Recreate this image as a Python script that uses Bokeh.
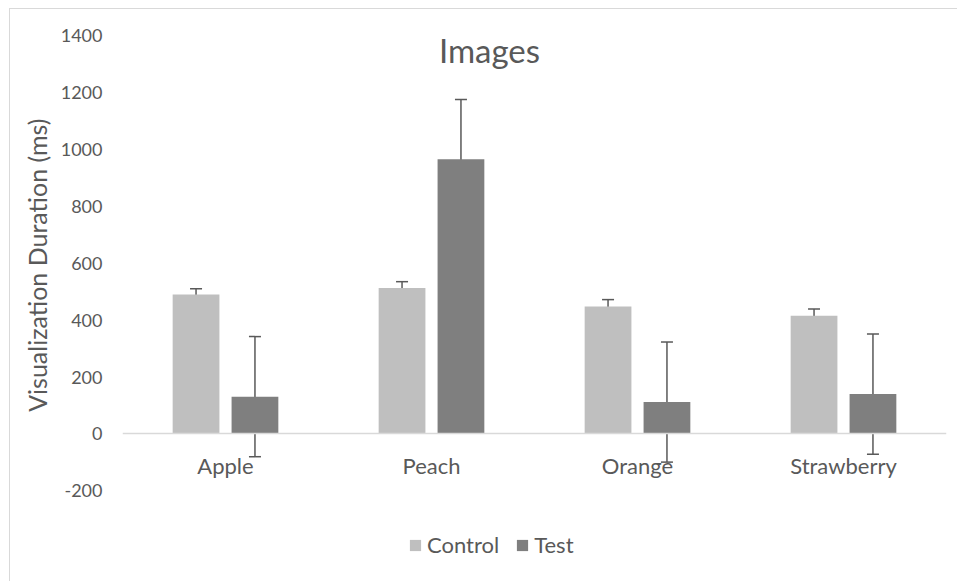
from bokeh.plotting import figure
from bokeh.models import (ColumnDataSource, FactorRange, Range1d, FixedTicker, Whisker,
                          TeeHead, Legend, LegendItem, Label, Title)
from bokeh.transform import dodge
from bokeh.embed import file_html
from bokeh.resources import INLINE

categories = ["Apple", "Peach", "Orange", "Strawberry"]
control = [490, 513, 448, 415]
control_err = [20, 22, 24, 24]
test = [131, 965, 112, 140]
test_err = [211, 210, 211, 211]
y_ticks = [-200, 0, 200, 400, 600, 800, 1000, 1200, 1400]

FONT = "Lato"
TXT = "#595959"
C_CONTROL = "#bfbfbf"
C_TEST = "#7f7f7f"
ERR = "#595959"

src = ColumnDataSource(dict(
    cat=categories,
    control=control,
    c_up=[v + e for v, e in zip(control, control_err)],
    c_lo=[v - e for v, e in zip(control, control_err)],
    test=test,
    t_up=[v + e for v, e in zip(test, test_err)],
    t_lo=[v - e for v, e in zip(test, test_err)],
))

# frame runs to the bottom of the chart so the legend below the axis stays visible
p = figure(width=948, height=573, x_range=FactorRange(*categories),
           y_range=Range1d(-522, 1400), output_backend="svg", toolbar_location=None,
           min_border_left=112, min_border_right=12, min_border_top=26, min_border_bottom=0)
p.margin = (8, 0, 0, 9)
p.styles = {"border-top": "1px solid #d9d9d9", "border-left": "1px solid #d9d9d9"}
p.outline_line_color = None
p.grid.visible = False

off = 0.143
bw = 0.227
r_c = p.vbar(x=dodge("cat", -off, range=p.x_range), top="control", bottom=0, width=bw,
             source=src, fill_color=C_CONTROL, line_color=None)
r_t = p.vbar(x=dodge("cat", off, range=p.x_range), top="test", bottom=0, width=bw,
             source=src, fill_color=C_TEST, line_color=None)

for shift, up, lo in ((-off, "c_up", "c_lo"), (off, "t_up", "t_lo")):
    w = Whisker(source=src, base=dodge("cat", shift, range=p.x_range), upper=up, lower=lo,
                dimension="height", line_color=ERR, line_width=1.5,
                upper_head=TeeHead(size=12, line_color=ERR, line_width=1.5),
                lower_head=TeeHead(size=12, line_color=ERR, line_width=1.5))
    p.add_layout(w)

# x axis sits on the zero line
p.xaxis.fixed_location = 0
p.xaxis.axis_line_color = "#d9d9d9"
p.xaxis.axis_line_width = 1.5
p.xaxis.major_tick_line_color = None
p.xaxis.minor_tick_line_color = None
p.xaxis.major_tick_out = 0
p.xaxis.major_label_standoff = 18
p.xaxis.major_label_text_font = FONT
p.xaxis.major_label_text_font_size = "22px"
p.xaxis.major_label_text_color = TXT

p.yaxis.ticker = FixedTicker(ticks=y_ticks)
p.yaxis.major_label_overrides = {-200: "-200"}
p.yaxis.axis_line_color = None
p.yaxis.major_tick_line_color = None
p.yaxis.minor_tick_line_color = None
p.yaxis.major_tick_out = 0
p.yaxis.major_label_standoff = 20
p.yaxis.major_label_text_font = FONT
p.yaxis.major_label_text_font_size = "18px"
p.yaxis.major_label_text_color = TXT

ylab = Title(text="Visualization Duration (ms)", align="right", offset=83,
             text_font=FONT, text_font_size="25px", text_color=TXT,
             text_font_style="normal", standoff=12)
p.add_layout(ylab, "left")

title = Label(x=367, y=533, x_units="screen", y_units="screen", text="Images",
              text_font=FONT, text_font_size="33px", text_color=TXT,
              text_align="center", text_baseline="alphabetic")
p.add_layout(title)

legend = Legend(items=[LegendItem(label="Control", renderers=[r_c]),
                       LegendItem(label="Test", renderers=[r_t])],
                orientation="horizontal", location=(286, 24),
                glyph_width=14, glyph_height=14, label_standoff=5, spacing=16,
                padding=0, margin=0, border_line_color=None, background_fill_alpha=0,
                label_text_font=FONT, label_text_font_size="22px", label_text_color=TXT,
                label_height=20)
p.add_layout(legend)

open("out.html", "w").write(file_html(p, INLINE))
